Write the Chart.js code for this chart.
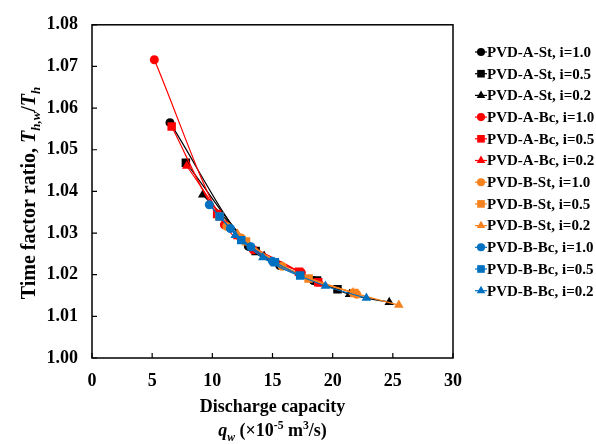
<!DOCTYPE html>
<html>
<head>
<meta charset="utf-8">
<script src="https://cdn.jsdelivr.net/npm/chart.js@4/dist/chart.umd.min.js"></script>
<style>
  body { margin: 0; background: #fff; }
  canvas { display: block; }
</style>
</head>
<body>
<canvas id="chart" width="596" height="444"></canvas>
<script>
// Data: [discharge capacity q_w, time factor ratio]
const pvdASt10 = [[6.48, 1.0565], [13.0, 1.0268], [15.6, 1.0222], [18.4, 1.0186]];
const pvdASt05 = [[7.8, 1.0469], [13.6, 1.0257], [18.7, 1.0186], [20.4, 1.0165]];
const pvdASt02 = [[9.2, 1.0392], [14.3, 1.0245], [18.9, 1.0182], [21.4, 1.0153], [24.7, 1.0134]];
const pvdABc10 = [[5.18, 1.0716], [11.0, 1.0320], [13.4, 1.0260], [17.4, 1.0205]];
const pvdABc05 = [[6.62, 1.0556], [10.4, 1.0346], [17.2, 1.0207], [18.8, 1.0182]];
const pvdABc02 = [[7.87, 1.0461], [12.1, 1.0292], [15.2, 1.0228], [19.0, 1.0178]];
const pvdBSt10 = [[11.2, 1.0316], [12.4, 1.0288], [15.8, 1.0220], [22.0, 1.0153]];
const pvdBSt05 = [[10.6, 1.0340], [12.8, 1.0280], [18.0, 1.0191], [21.8, 1.0156]];
const pvdBSt02 = [[12.1, 1.0298], [15.9, 1.0218], [21.7, 1.0157], [25.5, 1.0127]];
const pvdBBc10 = [[9.75, 1.0368], [11.5, 1.0311], [13.2, 1.0267], [15.0, 1.0232]];
const pvdBBc05 = [[10.6, 1.0340], [12.4, 1.0283], [15.2, 1.0230], [17.3, 1.0198]];
const pvdBBc02 = [[11.9, 1.0295], [14.2, 1.0241], [19.4, 1.0173], [22.8, 1.0144]];

const seriesLabels = [
  'PVD-A-St, i=1.0', 'PVD-A-St, i=0.5', 'PVD-A-St, i=0.2',
  'PVD-A-Bc, i=1.0', 'PVD-A-Bc, i=0.5', 'PVD-A-Bc, i=0.2',
  'PVD-B-St, i=1.0', 'PVD-B-St, i=0.5', 'PVD-B-St, i=0.2',
  'PVD-B-Bc, i=1.0', 'PVD-B-Bc, i=0.5', 'PVD-B-Bc, i=0.2'
];
const seriesData = [pvdASt10, pvdASt05, pvdASt02, pvdABc10, pvdABc05, pvdABc02,
                    pvdBSt10, pvdBSt05, pvdBSt02, pvdBBc10, pvdBBc05, pvdBBc02];
const xTickValues = [0, 5, 10, 15, 20, 25, 30];
const yTickValues = [1.00, 1.01, 1.02, 1.03, 1.04, 1.05, 1.06, 1.07, 1.08];

// styles
const colors = ['#000000', '#000000', '#000000', '#ff0000', '#ff0000', '#ff0000',
                '#f5811f', '#f5811f', '#f5811f', '#0070c0', '#0070c0', '#0070c0'];
const shapes = ['circle', 'rect', 'triangle'];
const shapeRadius = { circle: 4.5, rect: 6, triangle: 5.5 };
const SERIF = '"Liberation Serif", "Times New Roman", serif';

const datasets = seriesData.map((pts, i) => {
  const shape = shapes[i % 3];
  return {
    label: seriesLabels[i],
    data: pts.map(p => ({ x: p[0], y: p[1] })),
    showLine: true,
    borderColor: colors[i],
    backgroundColor: colors[i],
    borderWidth: 1.2,
    pointStyle: shape,
    pointRadius: shapeRadius[shape],
    pointBorderWidth: 0,
    cubicInterpolationMode: 'monotone',
    order: 12 - i
  };
});

// draw a run of text segments (italic / sub / sup) starting at x, baseline y
function richWidth(ctx, segs, size) {
  let w = 0;
  segs.forEach(s => {
    const fs = (s.sub || s.sup) ? size * 0.65 : size;
    ctx.font = (s.italic ? 'italic ' : '') + 'bold ' + fs + 'px ' + SERIF;
    w += ctx.measureText(s.t).width;
  });
  return w;
}
function drawRich(ctx, segs, x, y, size) {
  segs.forEach(s => {
    const fs = (s.sub || s.sup) ? size * 0.65 : size;
    ctx.font = (s.italic ? 'italic ' : '') + 'bold ' + fs + 'px ' + SERIF;
    let dy = 0;
    if (s.sub) dy = size * 0.25;
    if (s.sup) dy = -size * 0.38;
    ctx.fillText(s.t, x, y + dy);
    x += ctx.measureText(s.t).width;
  });
}

const framePlugin = {
  id: 'frame',
  afterDraw(chart) {
    const ctx = chart.ctx;
    const a = chart.chartArea;
    const xs = chart.scales.x, ys = chart.scales.y;
    ctx.save();
    ctx.strokeStyle = '#000';
    ctx.lineWidth = 1.5;
    ctx.strokeRect(a.left, a.top, a.right - a.left, a.bottom - a.top);
    ctx.lineWidth = 1.2;
    ctx.beginPath();
    xTickValues.forEach(v => {
      const px = xs.getPixelForValue(v);
      ctx.moveTo(px, a.bottom);
      ctx.lineTo(px, a.bottom - 5);
    });
    yTickValues.forEach(v => {
      const py = ys.getPixelForValue(v);
      ctx.moveTo(a.left, py);
      ctx.lineTo(a.left + 5, py);
    });
    ctx.stroke();

    // axis titles
    ctx.fillStyle = '#000';
    ctx.textBaseline = 'alphabetic';
    ctx.textAlign = 'left';
    const cx = (a.left + a.right) / 2;
    const line1 = [{ t: 'Discharge capacity' }];
    drawRich(ctx, line1, cx - richWidth(ctx, line1, 18) / 2, 412, 18);
    const line2 = [{ t: 'q', italic: true }, { t: 'w', italic: true, sub: true }, { t: ' (×10' },
                   { t: '-5', sup: true }, { t: ' m' }, { t: '3', sup: true }, { t: '/s)' }];
    drawRich(ctx, line2, cx - richWidth(ctx, line2, 18) / 2, 436, 18);

    const ytitle = [{ t: 'Time factor ratio, ' }, { t: 'T', italic: true }, { t: 'h,w', italic: true, sub: true },
                    { t: '/' }, { t: 'T', italic: true }, { t: 'h', italic: true, sub: true }];
    ctx.save();
    ctx.translate(35, 193);
    ctx.rotate(-Math.PI / 2);
    drawRich(ctx, ytitle, -richWidth(ctx, ytitle, 20) / 2, 0, 20);
    ctx.restore();

    // legend
    const lx = 481, ly0 = 52, step = 21.7;
    chart.data.datasets.forEach((ds, i) => {
      const y = ly0 + i * step;
      ctx.strokeStyle = ds.borderColor;
      ctx.lineWidth = 1.2;
      ctx.beginPath();
      ctx.moveTo(lx - 6, y);
      ctx.lineTo(lx + 6, y);
      ctx.stroke();
      ctx.fillStyle = ds.backgroundColor;
      Chart.helpers.drawPoint(ctx, {
        pointStyle: ds.pointStyle, radius: ds.pointRadius * 0.9, borderWidth: 0, rotation: 0
      }, lx, y);
      ctx.fillStyle = '#000';
      ctx.font = 'bold 15px ' + SERIF;
      ctx.textBaseline = 'middle';
      ctx.fillText(ds.label, lx + 6, y + 1);
    });
    ctx.restore();
  }
};

new Chart(document.getElementById('chart'), {
  type: 'scatter',
  data: { datasets: datasets },
  options: {
    responsive: false,
    animation: false,
    devicePixelRatio: 1,
    layout: { padding: { top: 20, right: 143, left: 0, bottom: 0 } },
    plugins: { legend: { display: false }, tooltip: { enabled: false } },
    scales: {
      x: {
        type: 'linear', min: 0, max: 30,
        afterBuildTicks: s => { s.ticks = xTickValues.map(v => ({ value: v })); },
        afterFit: s => { s.height = 86; },
        grid: { display: false, drawTicks: false },
        border: { display: false },
        ticks: { color: '#000', padding: 13, font: { family: SERIF, size: 18, weight: 'bold' } }
      },
      y: {
        type: 'linear', min: 1.0, max: 1.08,
        afterBuildTicks: s => { s.ticks = yTickValues.map(v => ({ value: v })); },
        afterFit: s => { s.width = 92; },
        grid: { display: false, drawTicks: false },
        border: { display: false },
        ticks: { color: '#000', padding: 14, font: { family: SERIF, size: 18, weight: 'bold' },
                 callback: v => v.toFixed(2) }
      }
    }
  },
  plugins: [framePlugin]
});
</script>
</body>
</html>
